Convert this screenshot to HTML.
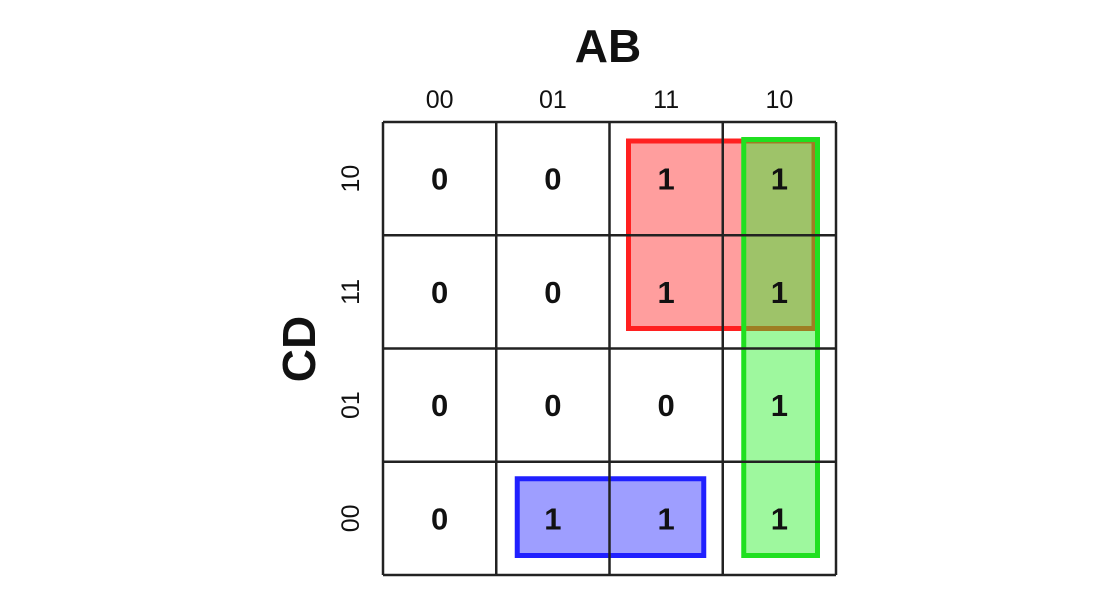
<!DOCTYPE html>
<html><head><meta charset="utf-8"><style>
body{margin:0;background:#fff}
svg{display:block;font-family:"Liberation Sans","DejaVu Sans",sans-serif}
</style></head><body>
<svg id="kmap" width="1115" height="600" viewBox="0 0 1115 600">
<text x="608" y="62" text-anchor="middle" font-size="46" font-weight="bold" fill="#111">AB</text>
<text transform="translate(315,349) rotate(-90)" text-anchor="middle" font-size="46" font-weight="bold" fill="#111">CD</text>
<g id="groups"></g>
<g id="grid"></g>
<g id="labels"></g>
</svg>
<script>
const colLabels = ["00","01","11","10"];
const rowLabels = ["10","11","01","00"];
const values = [
  [0,0,1,1],
  [0,0,1,1],
  [0,0,0,1],
  [0,1,1,1]
];
const groupNames = ["red-group","green-group","blue-group"];
const groupCols = [[2,3],[3,3],[1,2]];
const groupRows = [[0,1],[0,3],[3,3]];
const groupColors = ["#ff2020","#20e020","#2020ff"];
const groupFills = ["rgba(255,40,40,0.45)","rgba(40,240,40,0.45)","rgba(40,40,255,0.45)"];
const groupInsetL = [19,21,21];
const groupInsetR = [-22,-18.5,-19];
const groupInsetT = [19,17.5,17];
const groupInsetB = [-20,-19.5,-19.5];

const x0=383, y0=122, cw=113.25, ch=113.25;
const xs = c => x0 + c*cw;
const ys = r => y0 + r*ch;
const NS="http://www.w3.org/2000/svg";
const G=document.getElementById('groups'), GR=document.getElementById('grid'), L=document.getElementById('labels');
function mk(tag, attrs, parent){const e=document.createElementNS(NS,tag);for(const k in attrs)e.setAttribute(k,attrs[k]);parent.appendChild(e);return e;}

groupNames.forEach((n,i)=>{
  const x1=xs(groupCols[i][0])+groupInsetL[i], x2=xs(groupCols[i][1]+1)+groupInsetR[i];
  const y1=ys(groupRows[i][0])+groupInsetT[i], y2=ys(groupRows[i][1]+1)+groupInsetB[i];
  const r=mk('rect',{x:x1,y:y1,width:x2-x1,height:y2-y1,fill:groupFills[i],stroke:groupColors[i],'stroke-width':5},G);
  
  
});
for(let i=0;i<=4;i++){
  const v=mk('line',{x1:xs(i),y1:ys(0),x2:xs(i),y2:ys(4),stroke:'#222','stroke-width':2.5},GR);
  
  
  const h=mk('line',{x1:xs(0),y1:ys(i),x2:xs(4),y2:ys(i),stroke:'#222','stroke-width':2.5},GR);
  
  
}
colLabels.forEach((t,c)=>{
  const e=mk('text',{x:xs(c)+cw/2,y:108,'text-anchor':'middle','font-size':25,fill:'#111'},L);
  e.textContent=t;
  
  
});
rowLabels.forEach((t,r)=>{
  const cy=ys(r)+ch/2;
  const e=mk('text',{transform:`translate(359,${cy}) rotate(-90)`,'text-anchor':'middle','font-size':25,fill:'#111'},L);
  e.textContent=t;
  
  
});
values.forEach((row,r)=>row.forEach((v,c)=>{
  const e=mk('text',{x:xs(c)+cw/2,y:ys(r)+ch/2+11,'text-anchor':'middle','font-size':31,'font-weight':'bold',fill:'#111'},L);
  e.textContent=v;
  
  
}));
</script>
</body></html>
